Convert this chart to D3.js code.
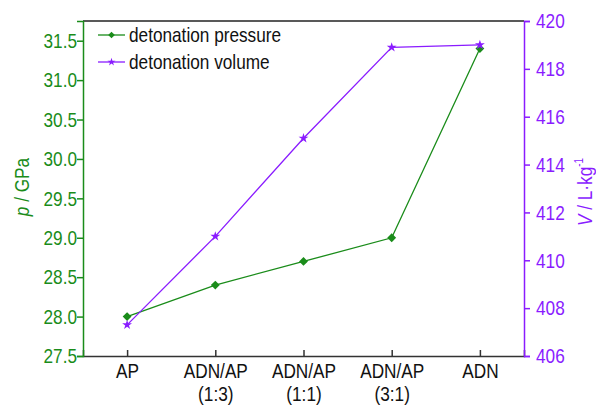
<!DOCTYPE html>
<html>
<head>
<meta charset="utf-8">
<script src="https://cdn.jsdelivr.net/npm/d3@7"></script>
<style>
  body { margin: 0; background: #fff; }
  text { font-family: "Liberation Sans", Arial, sans-serif; }
</style>
</head>
<body>
<svg id="chart" width="596" height="407"></svg>
<script>
var categories = ["AP", "ADN/AP\n(1:3)", "ADN/AP\n(1:1)", "ADN/AP\n(3:1)", "ADN"];
var pressure = [28.0, 28.4, 28.7, 29.0, 31.4];
var volume = [407.3, 411.0, 415.1, 418.9, 419.0];
var pressureTicks = [27.5, 28.0, 28.5, 29.0, 29.5, 30.0, 30.5, 31.0, 31.5];
var volumeTicks = [406, 408, 410, 412, 414, 416, 418, 420];

var green = "#1a8c1a", purple = "#8a1cff";
var fs = 21, sx = 0.82;   // narrow-looking type: Arial squeezed horizontally

var margin = {top: 21, right: 72, bottom: 51, left: 83};
var width = 596 - margin.left - margin.right,
    height = 407 - margin.top - margin.bottom;

var svg = d3.select("#chart");
var g = svg.append("g").attr("transform", "translate(" + margin.left + "," + margin.top + ")");

// squeeze text horizontally, keep its anchor x where it was
function narrow(sel, xpos) {
  sel.attr("x", xpos / sx).attr("transform", "scale(" + sx + ",1)")
     .attr("font-size", fs).attr("font-family", "Liberation Sans, Arial, sans-serif");
}

var x = d3.scalePoint().domain(categories).range([0, width]).padding(0.5);
var yL = d3.scaleLinear().domain([27.5, 31.75]).range([height, 0]);
var yR = d3.scaleLinear().domain([406, 420]).range([height, 0]);

// top frame
g.append("line").attr("x1", 0).attr("x2", width).attr("y1", 0).attr("y2", 0)
    .attr("stroke", "#222").attr("stroke-width", 1.5);

// bottom axis (ticks pointing inward)
var xAxis = g.append("g").attr("transform", "translate(0," + height + ")")
    .call(d3.axisBottom(x).tickSize(-6).tickFormat(""));
xAxis.select(".domain").attr("stroke", "#333").attr("stroke-width", 1.5);
xAxis.selectAll(".tick line").attr("stroke", "#333").attr("stroke-width", 1.5);
xAxis.selectAll(".tick").each(function(d) {
  var lines = d.split("\n");
  var t = d3.select(this).append("text").attr("text-anchor", "middle").attr("fill", "#111");
  narrow(t, 0);
  lines.forEach(function(s, i) {
    t.append("tspan").attr("x", 0).attr("y", 22 + i * 23).text(s);
  });
});

// left axis
var left = g.append("g")
    .call(d3.axisLeft(yL).tickValues(pressureTicks).tickSize(6).tickFormat(d3.format(".1f")));
left.select(".domain").attr("stroke", green).attr("stroke-width", 1.5);
left.selectAll(".tick line").attr("stroke", green).attr("stroke-width", 1.5);
left.selectAll(".tick text").attr("fill", green).call(narrow, -6);

// right axis
var right = g.append("g").attr("transform", "translate(" + width + ",0)")
    .call(d3.axisRight(yR).tickValues(volumeTicks).tickSize(6));
right.select(".domain").attr("stroke", purple).attr("stroke-width", 1.5);
right.selectAll(".tick line").attr("stroke", purple).attr("stroke-width", 1.5);
right.selectAll(".tick text").attr("fill", purple).call(narrow, 12);

// axis titles
var lt = svg.append("text").attr("transform", "translate(29,187) rotate(-90) scale(" + sx + ",1)")
    .attr("text-anchor", "middle").attr("fill", green).attr("font-size", fs);
lt.append("tspan").attr("font-style", "italic").text("p");
lt.append("tspan").text(" / GPa");

var rt = svg.append("text").attr("transform", "translate(592,192) rotate(-90) scale(" + sx + ",1)")
    .attr("text-anchor", "middle").attr("fill", purple).attr("font-size", fs);
rt.append("tspan").attr("font-style", "italic").text("V");
rt.append("tspan").text(" / L·kg");
rt.append("tspan").attr("font-size", 12).attr("dy", -9).text("-1");

// lines + markers (volume drawn on top)
var lineP = d3.line().x(function(d, i) { return x(categories[i]); }).y(function(d) { return yL(d); });
var lineV = d3.line().x(function(d, i) { return x(categories[i]); }).y(function(d) { return yR(d); });

var diamond = d3.symbol().type(d3.symbolDiamond2).size(50);
var star = d3.symbol().type(d3.symbolStar).size(30);

g.append("path").datum(pressure).attr("d", lineP).attr("fill", "none")
    .attr("stroke", green).attr("stroke-width", 1.3);
g.selectAll(".pm").data(pressure).enter().append("path")
    .attr("d", diamond)
    .attr("transform", function(d, i) { return "translate(" + x(categories[i]) + "," + yL(d) + ")"; })
    .attr("fill", green);

g.append("path").datum(volume).attr("d", lineV).attr("fill", "none")
    .attr("stroke", purple).attr("stroke-width", 1.3);
g.selectAll(".vm").data(volume).enter().append("path")
    .attr("d", star)
    .attr("transform", function(d, i) { return "translate(" + x(categories[i]) + "," + yR(d) + ")"; })
    .attr("fill", purple);

// legend
var legend = [
  {label: "detonation pressure", color: green, sym: d3.symbol().type(d3.symbolDiamond2).size(28)},
  {label: "detonation volume", color: purple, sym: d3.symbol().type(d3.symbolStar).size(20)}
];
var lg = g.append("g").attr("transform", "translate(15,14)");
legend.forEach(function(item, i) {
  var row = lg.append("g").attr("transform", "translate(0," + (i * 27) + ")");
  row.append("line").attr("x1", 0).attr("x2", 27).attr("stroke", item.color).attr("stroke-width", 1.3);
  row.append("path").attr("d", item.sym).attr("transform", "translate(13.5,0)").attr("fill", item.color);
  row.append("text").attr("y", 7).attr("fill", "#111").text(item.label).call(narrow, 31);
});
</script>
</body>
</html>
